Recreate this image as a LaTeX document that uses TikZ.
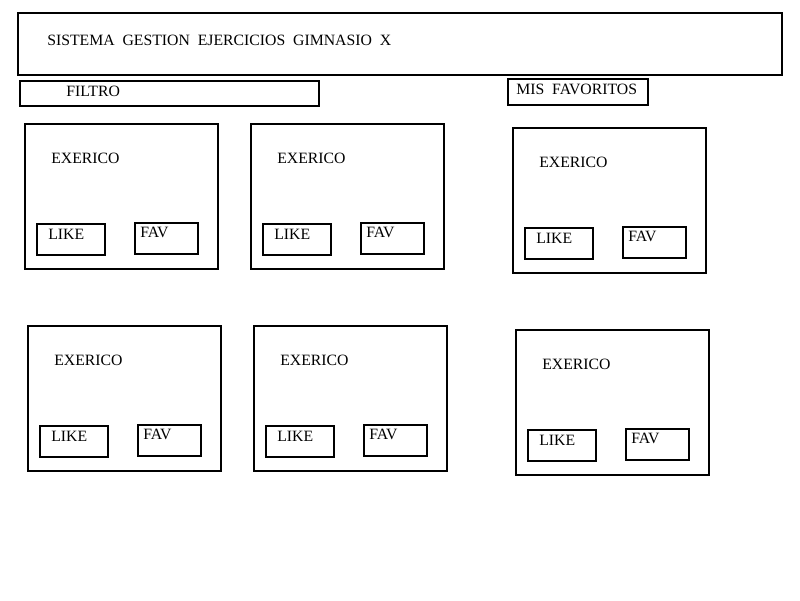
\documentclass[tikz,border=0pt]{standalone}
\usepackage{fontspec}
\setmainfont{Liberation Serif}
\usetikzlibrary{positioning}
\tikzset{
	caja/.style={draw, line width=1.3pt, inner sep=0pt, outer sep=0pt, anchor=north west},
	tarjeta/.style={caja, minimum width=4.825cm, minimum height=3.625cm},
	botonlike/.style={caja, minimum width=1.7cm, minimum height=0.775cm},
	botonfav/.style={caja, minimum width=1.575cm, minimum height=0.775cm},
	texto/.style={inner sep=0pt, anchor=west, font=\fontsize{11.2}{13}\selectfont}
}
\begin{document}
\begin{tikzpicture}[x=0.025cm, y=-0.025cm]
	\useasboundingbox (0,0) rectangle (800,600);
	% cabecera
	\node[caja, minimum width=19.1cm, minimum height=1.55cm] (titulo) at (18,13) {};
	\node[texto] (titulotxt) at (47,40) {SISTEMA~~GESTION~~EJERCICIOS~~GIMNASIO~~X};
	\node[caja, minimum width=7.475cm, minimum height=0.625cm] (filtro) at (20,81) {};
	\node[texto] (filtrotxt) at (66,91) {FILTRO};
	\node[caja, minimum width=3.5cm, minimum height=0.65cm] (favoritos) at (508,79) {};
	\node[texto] (favoritostxt) at (516,89) {MIS~~FAVORITOS};
	% tarjetas
	\foreach \n/\x/\y in {1/25/124, 2/251/124, 3/513/128, 4/28/326, 5/254/326, 6/516/330}
	{
		\node[tarjeta] (c\n) at (\x,\y) {};
		\node[texto] (e\n) at (\x+26,\y+34) {EXERICO};
		\node[botonlike] (l\n) at (\x+12,\y+100) {};
		\node[texto] at ([shift={(11,10)}]l\n.north west) {LIKE};
		\node[botonfav] (f\n) at (\x+110,\y+99) {};
		\node[texto] at ([shift={(5,9)}]f\n.north west) {FAV};
	}
\end{tikzpicture}
\end{document}
